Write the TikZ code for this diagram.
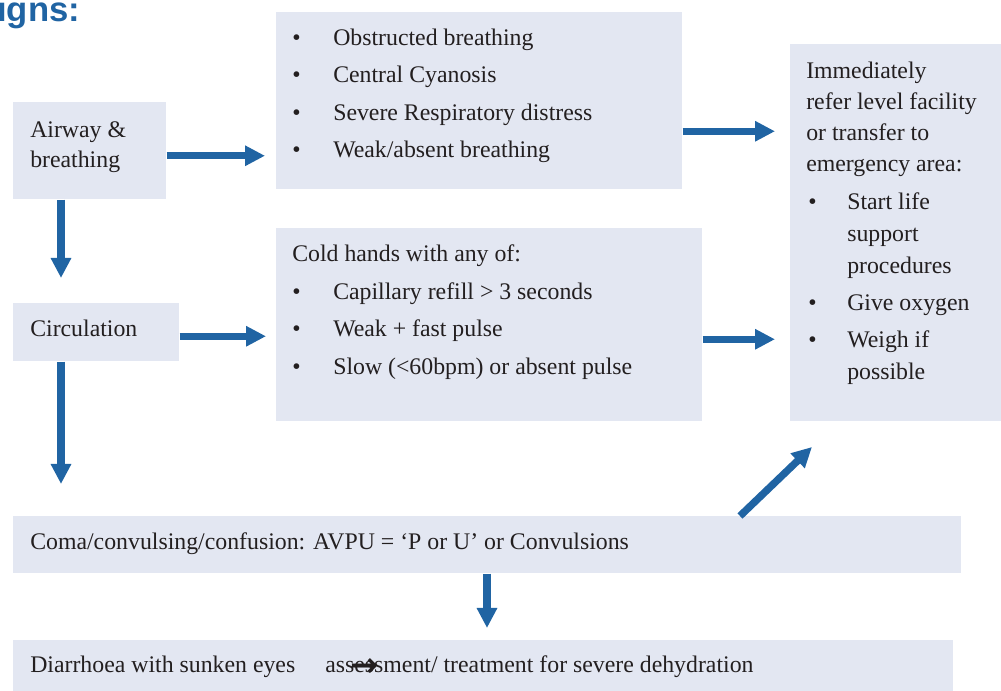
\documentclass[tikz,border=0pt]{standalone}
\usepackage{fontspec}
\setmainfont{Liberation Serif}
\newfontfamily\titlefont{Liberation Sans}
\newfontfamily\symfont{DejaVu Sans}
\usetikzlibrary{arrows.meta,calc}
\definecolor{arrblue}{HTML}{2064A3}
\definecolor{boxfill}{HTML}{E3E7F2}
\definecolor{textc}{HTML}{231F20}
\begin{document}
\begin{tikzpicture}[x=0.75pt,y=-0.75pt,
  box/.style={fill=boxfill,draw=none,inner sep=0pt,anchor=north west},
  txt/.style={inner sep=0pt,anchor=west,text height=12.3pt,text depth=4pt,yshift=-2.25pt,
    font=\fontsize{17.85}{22}\selectfont,text=textc},
  arr/.style={draw=arrblue,line width=5.5pt,
    -{Triangle[length=15pt,width=14.5pt]}}]
\useasboundingbox (0,0) rectangle (1001,691);
% title fragment
\node[anchor=base west,inner sep=0pt,font=\titlefont\bfseries\fontsize{26}{29}\selectfont,text=arrblue] (ttl) at (-3,22) {igns:};
% boxes
\node[box,minimum width={153*0.75pt},minimum height={97*0.75pt}] (ab) at (13,102) {};
\node[box,minimum width={406*0.75pt},minimum height={177*0.75pt}] (top) at (276,12) {};
\node[box,minimum width={166*0.75pt},minimum height={58*0.75pt}] (circ) at (13,303) {};
\node[box,minimum width={426*0.75pt},minimum height={193*0.75pt}] (cold) at (276,228) {};
\node[box,minimum width={211*0.75pt},minimum height={377*0.75pt}] (rb) at (790,44) {};
\node[box,minimum width={948*0.75pt},minimum height={57*0.75pt}] (coma) at (13,516) {};
\node[box,minimum width={940*0.75pt},minimum height={51*0.75pt}] (diar) at (13,640) {};
% airway text
\node[txt] (ab1) at (30,129) {Airway \&};
\node[txt] (ab2) at (30,159) {breathing};
% top box text
\node[txt] (tb1) at (292,37) {•};
\node[txt] (tt1) at (333,37) {Obstructed breathing};
\node[txt] (tb2) at (292,74) {•};
\node[txt] (tt2) at (333,74) {Central Cyanosis};
\node[txt] (tb3) at (292,112) {•};
\node[txt] (tt3) at (333,112) {Severe Respiratory distress};
\node[txt] (tb4) at (292,149) {•};
\node[txt] (tt4) at (333,149) {Weak/absent breathing};
% circulation
\node[txt] (c1) at (30,328) {Circulation};
% cold hands box
\node[txt] (ch0) at (292,253) {Cold hands with any of:};
\node[txt] (cb1) at (292,291) {•};
\node[txt] (ct1) at (333,291) {Capillary refill > 3 seconds};
\node[txt] (cb2) at (292,328) {•};
\node[txt] (ct2) at (333,328) {Weak + fast pulse};
\node[txt] (cb3) at (292,366) {•};
\node[txt] (ct3) at (333,366) {Slow (<60bpm) or absent pulse};
% right box
\node[txt] (r1) at (806,70) {Immediately};
\node[txt] (r2) at (806,101) {refer level facility};
\node[txt] (r3) at (806,132) {or transfer to};
\node[txt] (r4) at (806,163) {emergency area:};
\node[txt] (rb1) at (808,201) {•};
\node[txt] (rt1) at (847,201) {Start life};
\node[txt] (rt1b) at (847,233) {support};
\node[txt] (rt1c) at (847,265) {procedures};
\node[txt] (rb2) at (808,302) {•};
\node[txt] (rt2) at (847,302) {Give oxygen};
\node[txt] (rb3) at (808,339) {•};
\node[txt] (rt3) at (847,339) {Weigh if};
\node[txt] (rt3b) at (847,371) {possible};
% coma and diarrhoea
\node[txt] (cm) at (30,541) {Coma/convulsing/confusion: AVPU = ‘P or U’ or Convulsions};
\node[txt] (d1) at (30,664) {Diarrhoea with sunken eyes};
\node[txt] (d2) at (325,664) {assessment/ treatment for severe dehydration};
\node[inner sep=0pt,font=\symfont\bfseries\fontsize{25}{28}\selectfont,text=textc] (dar) at (364,668) {→};
% arrows
\coordinate (diagend) at (812,447);
\draw[arr,shorten >=8.25pt] ($(ab.east)+(0,5)$) coordinate (a1s) -- (a1s -| top.west);
\draw[arr,shorten >=11.25pt] ($(top.east)+(0,30.5)$) coordinate (a2s) -- (a2s -| rb.west);
\draw[arr,shorten >=18.75pt] ($(ab.south west)+(48,0)$) coordinate (a3s) -- (a3s |- circ.north);
\draw[arr,shorten >=7.5pt] ($(circ.east)+(0,4)$) coordinate (a4s) -- (a4s -| cold.west);
\draw[arr,shorten >=11.25pt] ($(cold.east)+(0,14.5)$) coordinate (a5s) -- (a5s -| rb.west);
\draw[arr,shorten >=24pt] ($(circ.south west)+(48,0)$) coordinate (a6s) -- (a6s |- coma.north);
\draw[arr] ($(coma.north west)+(727,0)$) -- (diagend);
\draw[arr,shorten >=9pt] ($(coma.south west)+(474,0)$) coordinate (a8s) -- (a8s |- diar.north);
\end{tikzpicture}
\end{document}
